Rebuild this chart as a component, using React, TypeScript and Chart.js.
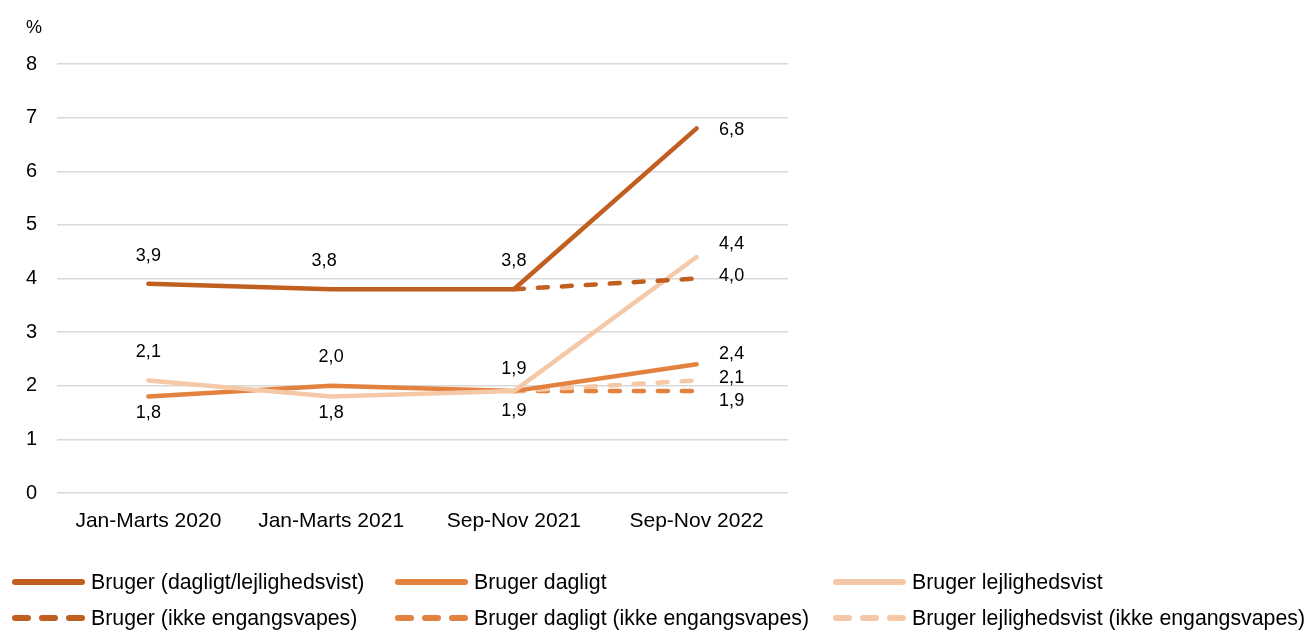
import React, { useEffect, useRef } from "react";
import { Chart, registerables } from "chart.js";

Chart.register(...registerables);

const categories = ["Jan-Marts 2020", "Jan-Marts 2021", "Sep-Nov 2021", "Sep-Nov 2022"];
const yTicks = [0, 1, 2, 3, 4, 5, 6, 7, 8];

const daglLejl = [3.9, 3.8, 3.8, 6.8];
const dagligt = [1.8, 2.0, 1.9, 2.4];
const lejl = [2.1, 1.8, 1.9, 4.4];
const daglLejlIkke = [null, null, 3.8, 4.0];
const dagligtIkke = [null, null, 1.9, 1.9];
const lejlIkke = [null, null, 1.9, 2.1];

const seriesNames = [
  "Bruger (dagligt/lejlighedsvist)",
  "Bruger dagligt",
  "Bruger lejlighedsvist",
  "Bruger (ikke engangsvapes)",
  "Bruger dagligt (ikke engangsvapes)",
  "Bruger lejlighedsvist (ikke engangsvapes)",
];

const DARK = "#C05F1F";
const MID = "#E3823F";
const LIGHT = "#F5C8A8";
const FONT = "'Liberation Sans', Arial, Helvetica, sans-serif";

// label offsets (px) relative to each point; null = no label
const offDaglLejl = [[0, -28], [-7, -28], [0, -28], [35, 2]];
const offDagligt = [[0, 17], [0, -29], [0, -22], [35, -10]];
const offLejl = [[0, -28], [0, 17], [0, 20], [35, -13]];
const offDaglLejlIkke = [null, null, null, [35, -2]];
const offDagligtIkke = [null, null, null, [35, 10]];
const offLejlIkke = [null, null, null, [35, -2]];

const labelPlugin = {
  id: "pointLabels",
  afterDatasetsDraw(chart: any) {
    const ctx = chart.ctx;
    ctx.save();
    ctx.font = `18px ${FONT}`;
    ctx.fillStyle = "#000";
    ctx.textAlign = "center";
    ctx.textBaseline = "middle";
    chart.data.datasets.forEach((ds: any, i: number) => {
      const meta = chart.getDatasetMeta(i);
      const offs = ds.labelOffsets;
      meta.data.forEach((pt: any, j: number) => {
        const v = ds.data[j];
        if (v == null || !offs || !offs[j]) return;
        ctx.fillText(v.toFixed(1).replace(".", ","), pt.x + offs[j][0], pt.y + offs[j][1]);
      });
    });
    ctx.restore();
  },
};

const legendItems = [
  { name: seriesNames[0], color: DARK, dashed: false, x: 12, y: 582 },
  { name: seriesNames[1], color: MID, dashed: false, x: 395, y: 582 },
  { name: seriesNames[2], color: LIGHT, dashed: false, x: 833, y: 582 },
  { name: seriesNames[3], color: DARK, dashed: true, x: 12, y: 618 },
  { name: seriesNames[4], color: MID, dashed: true, x: 395, y: 618 },
  { name: seriesNames[5], color: LIGHT, dashed: true, x: 833, y: 618 },
];

export default function App() {
  const ref = useRef<HTMLCanvasElement>(null);

  useEffect(() => {
    if (!ref.current) return;
    const line = (label: string, data: any[], color: string, dashed: boolean, offs: any[]) => ({
      label,
      data,
      borderColor: color,
      backgroundColor: color,
      borderWidth: 4.5,
      borderDash: dashed ? [10, 14] : [],
      borderCapStyle: "round",
      borderJoinStyle: "round",
      pointRadius: 0,
      tension: 0,
      spanGaps: false,
      fill: false,
      labelOffsets: offs,
    });
    const chart = new Chart(ref.current, {
      type: "line",
      data: {
        labels: categories,
        datasets: [
          line(seriesNames[0], daglLejl, DARK, false, offDaglLejl),
          line(seriesNames[3], daglLejlIkke, DARK, true, offDaglLejlIkke),
          line(seriesNames[2], lejl, LIGHT, false, offLejl),
          line(seriesNames[1], dagligt, MID, false, offDagligt),
          line(seriesNames[5], lejlIkke, LIGHT, true, offLejlIkke),
          line(seriesNames[4], dagligtIkke, MID, true, offDagligtIkke),
        ] as any,
      },
      options: {
        animation: false,
        responsive: false,
        layout: { padding: { top: 64, right: 518, left: 0, bottom: 0 } },
        plugins: {
          legend: { display: false },
          tooltip: { enabled: false },
        },
        scales: {
          x: {
            offset: true,
            grid: { display: false },
            border: { display: false },
            ticks: { color: "#000", font: { size: 21, family: FONT }, padding: 8, maxRotation: 0 },
            afterFit: (s: any) => { s.height = 137; },
          },
          y: {
            min: 0,
            max: 8,
            afterBuildTicks: (s: any) => { s.ticks = yTicks.map((v) => ({ value: v })); },
            grid: { color: "#D9D9D9", lineWidth: 1.5, drawTicks: false },
            border: { display: false },
            ticks: { color: "#000", font: { size: 20, family: FONT }, padding: 20 },
            afterFit: (s: any) => { s.width = 57; },
          },
        },
      } as any,
      plugins: [labelPlugin],
    });
    return () => chart.destroy();
  }, []);

  return (
    <div style={{ position: "absolute", left: 0, top: 0, width: 1306, height: 630, background: "#fff", fontFamily: FONT }}>
      <canvas ref={ref} width={1306} height={630} style={{ position: "absolute", left: 0, top: 0, width: 1306, height: 630 }} />
      <div style={{ position: "absolute", left: 26, top: 16, fontSize: 18, lineHeight: "22px", color: "#000" }}>%</div>
      {legendItems.map((it) => (
        <div
          key={it.name}
          style={{ position: "absolute", left: it.x, top: it.y - 15, height: 30, display: "flex", alignItems: "center", whiteSpace: "nowrap" }}
        >
          <svg width={73} height={10} style={{ display: "block" }}>
            <line
              x1={3}
              y1={5}
              x2={70}
              y2={5}
              stroke={it.color}
              strokeWidth={6}
              strokeLinecap="round"
              strokeDasharray={it.dashed ? "13 14" : undefined}
            />
          </svg>
          <span style={{ marginLeft: 6, fontSize: 21.3, color: "#000" }}>{it.name}</span>
        </div>
      ))}
    </div>
  );
}
